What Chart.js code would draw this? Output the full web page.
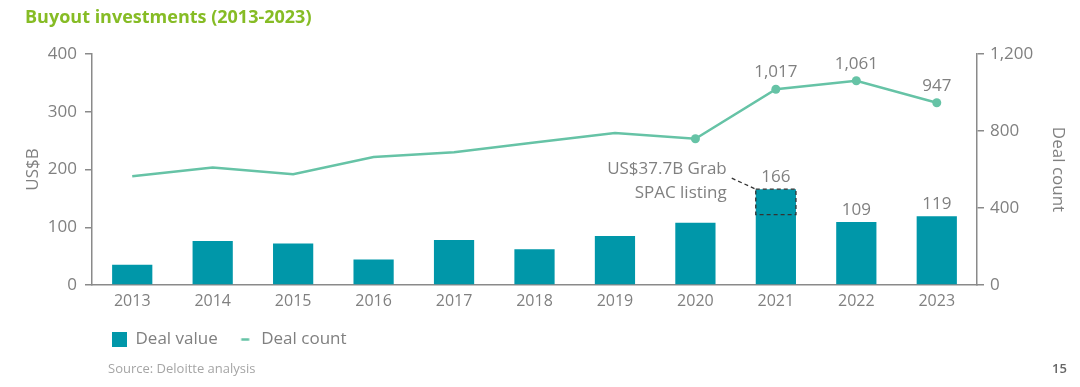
<!DOCTYPE html>
<html lang="en">
<head>
<meta charset="UTF-8">
<title>Buyout investments (2013-2023)</title>
<script src="https://cdn.jsdelivr.net/npm/chart.js"></script>
<style>
  body { margin: 0; background: #fff; font-family: "Open Sans", sans-serif; }
  .page { position: relative; width: 1080px; height: 387px; overflow: hidden; }
  .chart-box { position: absolute; left: 0; top: 0; width: 1080px; height: 387px; }
  .title { position: absolute; left: 25px; top: 4px; font-size: 18px; font-weight: 700; color: #86bc25; }
  .source { position: absolute; left: 108px; top: 359px; font-size: 13px; color: #a5a5a5; }
  .page-no { position: absolute; left: 1052px; top: 359px; font-size: 13px; font-weight: 600; color: #666; }
</style>
</head>
<body>
<div class="page">
  <div class="chart-box"><canvas id="buyoutChart"></canvas></div>
  <div class="title">Buyout investments (2013-2023)</div>
  <div class="source">Source: Deloitte analysis</div>
  <div class="page-no">15</div>
</div>

<script>
// data
const years = ['2013', '2014', '2015', '2016', '2017', '2018', '2019', '2020', '2021', '2022', '2023'];
const dealValue = [35, 76, 72, 44, 78, 62, 85, 108, 166, 109, 119];   // US$B
const dealCount = [565, 610, 575, 665, 690, 740, 790, 760, 1017, 1061, 947];
const valueAxis = { min: 0, max: 400, step: 100 };
const countAxis = { min: 0, max: 1200, step: 400 };
const labelFromYear = '2021';   // values printed from here on
const markerFromYear = '2020';  // line markers from here on
const grabYear = '2021';
const grabBoxBottom = 122;      // lower edge of the dashed box, US$B
const grabNote = ['US$37.7B Grab', 'SPAC listing'];

const barColor = '#0097a9';
const lineColor = '#66c3a6';
const textColor = '#808080';
const axisColor = '#8a8a8a';
const fontFamily = '"Open Sans", sans-serif';

const labelFrom = years.indexOf(labelFromYear);
const markerFrom = years.indexOf(markerFromYear);
const grabIndex = years.indexOf(grabYear);

// short dash used as the legend swatch for the line
const lineSwatch = document.createElement('canvas');
lineSwatch.width = 15;
lineSwatch.height = 15;
(function () {
    const c = lineSwatch.getContext('2d');
    c.strokeStyle = lineColor;
    c.lineWidth = 2.5;
    c.beginPath();
    c.moveTo(3.5, 7.5);
    c.lineTo(11.5, 7.5);
    c.stroke();
})();

const valueLabels = {
    id: 'valueLabels',
    afterDatasetsDraw(chart) {
        const ctx = chart.ctx;
        ctx.save();
        ctx.font = '17px ' + fontFamily;
        ctx.fillStyle = textColor;
        ctx.textAlign = 'center';
        ctx.textBaseline = 'middle';

        const bars = chart.getDatasetMeta(0).data;
        const points = chart.getDatasetMeta(1).data;
        for (let i = labelFrom; i < years.length; i++) {
            ctx.fillText(dealValue[i].toLocaleString('en-US'), bars[i].x, bars[i].y - 12);
            ctx.fillText(dealCount[i].toLocaleString('en-US'), points[i].x, points[i].y - 17);
        }

        // Grab SPAC note
        const bar = bars[grabIndex];
        const yScale = chart.scales.yValue;
        const left = bar.x - bar.width / 2;
        const top = yScale.getPixelForValue(dealValue[grabIndex]);
        const bottom = yScale.getPixelForValue(grabBoxBottom);
        ctx.strokeStyle = '#333';
        ctx.lineWidth = 1.3;
        ctx.setLineDash([4, 3]);
        ctx.strokeRect(left, top, bar.width, bottom - top);
        ctx.beginPath();
        ctx.moveTo(left - 24, top - 11);
        ctx.lineTo(left, top);
        ctx.stroke();
        ctx.setLineDash([]);
        ctx.textAlign = 'right';
        ctx.fillText(grabNote[0], left - 29, top - 20);
        ctx.fillText(grabNote[1], left - 29, top + 4);
        ctx.restore();
    }
};

new Chart(document.getElementById('buyoutChart'), {
    data: {
        labels: years,
        datasets: [
            {
                type: 'bar',
                label: 'Deal value',
                data: dealValue,
                backgroundColor: barColor,
                yAxisID: 'yValue',
                barPercentage: 0.5,
                categoryPercentage: 1,
                order: 2
            },
            {
                type: 'line',
                label: 'Deal count',
                data: dealCount,
                borderColor: lineColor,
                backgroundColor: lineColor,
                borderWidth: 2.5,
                pointRadius: years.map((y, i) => i >= markerFrom ? 4.5 : 0),
                pointBorderWidth: 0,
                tension: 0,
                yAxisID: 'yCount',
                order: 1
            }
        ]
    },
    options: {
        responsive: true,
        maintainAspectRatio: false,
        animation: false,
        layout: { padding: { top: 54, bottom: 29, left: 0, right: 0 } },
        plugins: {
            tooltip: { enabled: false },
            legend: {
                position: 'bottom',
                align: 'start',
                fullSize: false,
                labels: {
                    usePointStyle: true,
                    boxWidth: 15,
                    boxHeight: 15,
                    padding: 20,
                    color: textColor,
                    font: { family: fontFamily, size: 17 },
                    generateLabels: chart => chart.data.datasets.map((ds, i) => ({
                        text: ds.label,
                        fillStyle: barColor,
                        strokeStyle: barColor,
                        lineWidth: 0,
                        pointStyle: i === 0 ? 'rect' : lineSwatch,
                        fontColor: textColor,
                        hidden: false,
                        datasetIndex: i
                    }))
                }
            }
        },
        scales: {
            x: {
                grid: { display: false, drawTicks: false },
                border: { color: axisColor, width: 1.5 },
                ticks: { color: textColor, font: { family: fontFamily, size: 16 }, padding: 7 },
                afterFit: s => { s.height = 26; }
            },
            yValue: {
                position: 'left',
                min: valueAxis.min,
                max: valueAxis.max,
                ticks: { stepSize: valueAxis.step, color: textColor, font: { family: fontFamily, size: 17 }, padding: 8 },
                grid: { drawOnChartArea: false, color: axisColor, lineWidth: 1.5, tickLength: 7 },
                border: { color: axisColor, width: 1.5 },
                title: { display: true, text: 'US$B', color: textColor, font: { family: fontFamily, size: 17 }, padding: { top: 23, bottom: 0 } },
                afterFit: s => { s.width = 92; }
            },
            yCount: {
                position: 'right',
                min: countAxis.min,
                max: countAxis.max,
                ticks: {
                    stepSize: countAxis.step,
                    color: textColor,
                    font: { family: fontFamily, size: 17 },
                    padding: 6,
                    callback: v => v.toLocaleString('en-US')
                },
                grid: { drawOnChartArea: false, color: axisColor, lineWidth: 1.5, tickLength: 7 },
                border: { color: axisColor, width: 1.5 },
                title: { display: true, text: 'Deal count', color: textColor, font: { family: fontFamily, size: 17 }, padding: { top: 12, bottom: 0 } },
                afterFit: s => { s.width = 103; }
            }
        }
    },
    plugins: [valueLabels]
});
</script>
</body>
</html>
